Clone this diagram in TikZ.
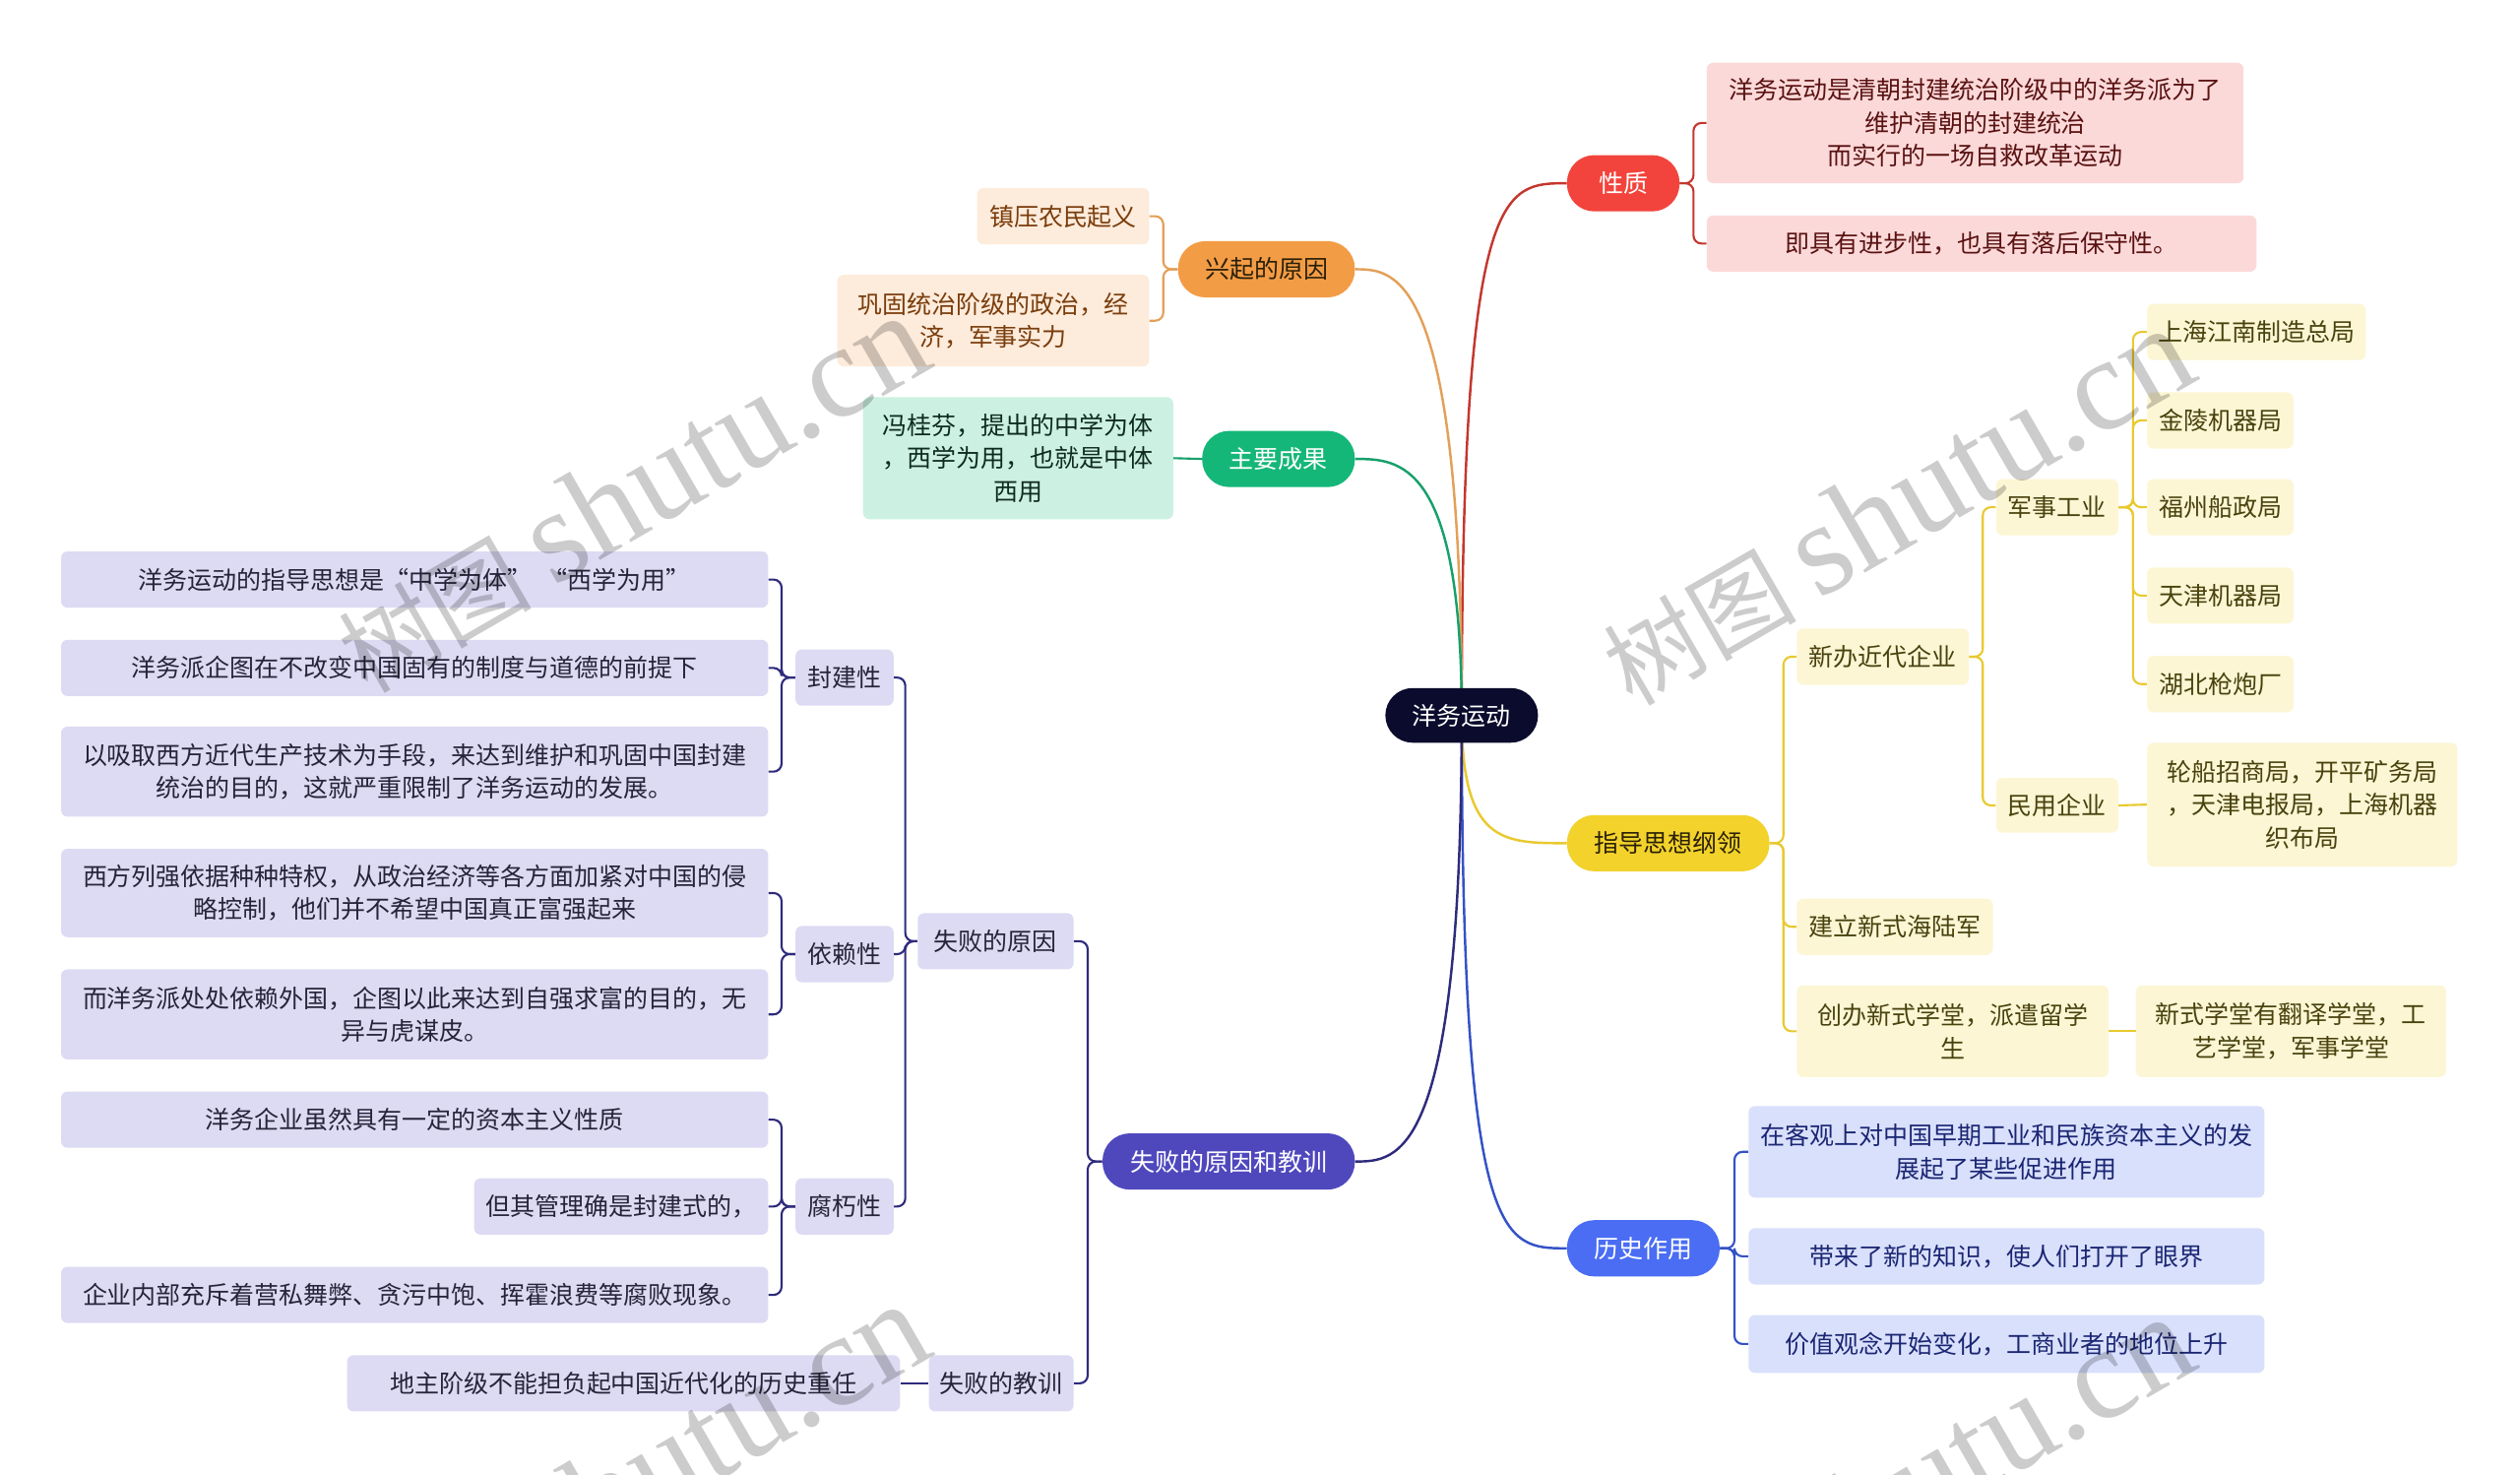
\documentclass[tikz,border=0pt]{standalone}
\usepackage{fontspec}
\newfontfamily\cjk{Noto Sans CJK SC}
\newfontfamily\wmserif{Liberation Serif}
\usetikzlibrary{backgrounds}
\definecolor{rootc}{HTML}{0B0B2D}
\definecolor{redm}{HTML}{F2443C}
\definecolor{redl}{HTML}{FCD9D9}
\definecolor{redt}{HTML}{5A1212}
\definecolor{redline}{HTML}{C4372E}
\definecolor{orm}{HTML}{F39C46}
\definecolor{orl}{HTML}{FDEBDB}
\definecolor{ort}{HTML}{7A3D0C}
\definecolor{orline}{HTML}{E3A058}
\definecolor{grm}{HTML}{15B778}
\definecolor{grl}{HTML}{CCF1E2}
\definecolor{grt}{HTML}{0F2A20}
\definecolor{grline}{HTML}{17A06C}
\definecolor{yem}{HTML}{F2D22B}
\definecolor{yel}{HTML}{FCF6D4}
\definecolor{yet}{HTML}{4A420E}
\definecolor{yeline}{HTML}{E9C92E}
\definecolor{blm}{HTML}{4A6DF3}
\definecolor{bll}{HTML}{D9E0FC}
\definecolor{blt}{HTML}{1B2673}
\definecolor{blline}{HTML}{3452C6}
\definecolor{pum}{HTML}{4F48BD}
\definecolor{pul}{HTML}{DDDBF3}
\definecolor{put}{HTML}{25243A}
\definecolor{puline}{HTML}{2F2B7C}
\definecolor{darkt}{HTML}{2A2008}
\tikzset{
  base/.style={rectangle, inner sep=0pt, align=center, font=\cjk\fontsize{15.3}{20.5}\selectfont},
  mainnode/.style={base, rounded corners=17pt, minimum height=35pt},
  leaf/.style={base, rounded corners=4pt},
  link/.style={line width=1.3pt, rounded corners=5pt},
  rootlink/.style={line width=1.5pt},
  wm/.style={rotate=30, text=black, opacity=0.2, inner sep=0pt},
}
\begin{document}
\begin{tikzpicture}[x=1pt, y=-1pt]
\useasboundingbox (0,0) rectangle (1568,917);

% root
\node[mainnode, fill=rootc, text=white, minimum width=95pt, minimum height=34pt] (root) at (909.5,445) {洋务运动};

% ---- right side
\node[mainnode, fill=redm, text=white, minimum width=70pt] (xingzhi) at (1010,114) {性质};
\node[leaf, fill=redl, text=redt, minimum width=334pt, minimum height=75pt] (xz1) at (1229,76.5) {洋务运动是清朝封建统治阶级中的洋务派为了\\维护清朝的封建统治\\而实行的一场自救改革运动};
\node[leaf, fill=redl, text=redt, minimum width=342pt, minimum height=35pt] (xz2) at (1233,151.5) {即具有进步性，也具有落后保守性。};

\node[mainnode, fill=yem, text=darkt, minimum width=126pt] (zhidao) at (1038,524.5) {指导思想纲领};
\node[leaf, fill=yel, text=yet, minimum width=107pt, minimum height=35pt] (xinban) at (1171.5,408.5) {新办近代企业};
\node[leaf, fill=yel, text=yet, minimum width=76pt, minimum height=35pt] (junshi) at (1280,315.5) {军事工业};
\node[leaf, fill=yel, text=yet, minimum width=136pt, minimum height=35pt] (j1) at (1404,206.5) {上海江南制造总局};
\node[leaf, fill=yel, text=yet, minimum width=91pt, minimum height=35pt] (j2) at (1381.5,261.5) {金陵机器局};
\node[leaf, fill=yel, text=yet, minimum width=91pt, minimum height=35pt] (j3) at (1381.5,315.5) {福州船政局};
\node[leaf, fill=yel, text=yet, minimum width=91pt, minimum height=35pt] (j4) at (1381.5,370.5) {天津机器局};
\node[leaf, fill=yel, text=yet, minimum width=91pt, minimum height=35pt] (j5) at (1381.5,425.5) {湖北枪炮厂};
\node[leaf, fill=yel, text=yet, minimum width=76pt, minimum height=34pt] (minyong) at (1280,501) {民用企业};
\node[leaf, fill=yel, text=yet, minimum width=193pt, minimum height=77pt] (m1) at (1432.5,500.5) {轮船招商局，开平矿务局\\，天津电报局，上海机器\\织布局};
\node[leaf, fill=yel, text=yet, minimum width=122pt, minimum height=35pt] (haijun) at (1179,576.5) {建立新式海陆军};
\node[leaf, fill=yel, text=yet, minimum width=194pt, minimum height=57pt] (xuetang) at (1215,641.5) {创办新式学堂，派遣留学\\生};
\node[leaf, fill=yel, text=yet, minimum width=193pt, minimum height=57pt] (xt1) at (1425.5,641.5) {新式学堂有翻译学堂，工\\艺学堂，军事学堂};

\node[mainnode, fill=blm, text=white, minimum width=95pt] (lishi) at (1022.5,776.5) {历史作用};
\node[leaf, fill=bll, text=blt, minimum width=321pt, minimum height=57pt] (l1) at (1248.5,716.5) {在客观上对中国早期工业和民族资本主义的发\\展起了某些促进作用};
\node[leaf, fill=bll, text=blt, minimum width=321pt, minimum height=35pt] (l2) at (1248.5,781.5) {带来了新的知识，使人们打开了眼界};
\node[leaf, fill=bll, text=blt, minimum width=321pt, minimum height=36pt] (l3) at (1248.5,836) {价值观念开始变化，工商业者的地位上升};

% ---- left side
\node[mainnode, fill=orm, text=darkt, minimum width=110pt] (xingqi) at (788,167.5) {兴起的原因};
\node[leaf, fill=orl, text=ort, minimum width=107pt, minimum height=35pt] (q1) at (661.5,134.5) {镇压农民起义};
\node[leaf, fill=orl, text=ort, minimum width=194pt, minimum height=57pt] (q2) at (618,199.5) {巩固统治阶级的政治，经\\济，军事实力};

\node[mainnode, fill=grm, text=white, minimum width=95pt] (chengguo) at (795.5,285.5) {主要成果};
\node[leaf, fill=grl, text=grt, minimum width=193pt, minimum height=76pt] (c1) at (633.5,285) {冯桂芬，提出的中学为体\\，西学为用，也就是中体\\西用};

\node[mainnode, fill=pum, text=white, minimum width=157pt] (shibai) at (764.5,722.5) {失败的原因和教训};
\node[leaf, fill=pul, text=put, minimum width=97pt, minimum height=35pt] (yuanyin) at (619.5,585.5) {失败的原因};
\node[leaf, fill=pul, text=put, minimum width=61pt, minimum height=35pt] (fengjian) at (525.5,421.5) {封建性};
\node[leaf, fill=pul, text=put, minimum width=440pt, minimum height=35pt] (f1) at (258,360.5) {洋务运动的指导思想是“中学为体”\ \ “西学为用”};
\node[leaf, fill=pul, text=put, minimum width=440pt, minimum height=35pt] (f2) at (258,415.5) {洋务派企图在不改变中国固有的制度与道德的前提下};
\node[leaf, fill=pul, text=put, minimum width=440pt, minimum height=56pt] (f3) at (258,480) {以吸取西方近代生产技术为手段，来达到维护和巩固中国封建\\统治的目的，这就严重限制了洋务运动的发展。};
\node[leaf, fill=pul, text=put, minimum width=61pt, minimum height=35pt] (yilai) at (525.5,593.5) {依赖性};
\node[leaf, fill=pul, text=put, minimum width=440pt, minimum height=55pt] (y1) at (258,555.5) {西方列强依据种种特权，从政治经济等各方面加紧对中国的侵\\略控制，他们并不希望中国真正富强起来};
\node[leaf, fill=pul, text=put, minimum width=440pt, minimum height=56pt] (y2) at (258,631) {而洋务派处处依赖外国，企图以此来达到自强求富的目的，无\\异与虎谋皮。};
\node[leaf, fill=pul, text=put, minimum width=61pt, minimum height=35pt] (fuxiu) at (525.5,750.5) {腐朽性};
\node[leaf, fill=pul, text=put, minimum width=440pt, minimum height=35pt] (fx1) at (258,696.5) {洋务企业虽然具有一定的资本主义性质};
\node[leaf, fill=pul, text=put, minimum width=183pt, minimum height=35pt] (fx2) at (386.5,750.5) {但其管理确是封建式的，};
\node[leaf, fill=pul, text=put, minimum width=440pt, minimum height=35pt] (fx3) at (258,805.5) {企业内部充斥着营私舞弊、贪污中饱、挥霍浪费等腐败现象。};
\node[leaf, fill=pul, text=put, minimum width=90pt, minimum height=35pt] (jiaoxun) at (623,860.5) {失败的教训};
\node[leaf, fill=pul, text=put, minimum width=344pt, minimum height=35pt] (jx1) at (388,860.5) {地主阶级不能担负起中国近代化的历史重任};

% ---- connectors
\begin{scope}[on background layer]
\fill[white] (0,0) rectangle (1568,917);
% root curves
\draw[rootlink, redline] (root.center) .. controls (909.5,114) and (935,114) .. (xingzhi.west);
\draw[rootlink, orline] (root.center) .. controls (909.5,167.5) and (868,167.5) .. (xingqi.east);
\draw[rootlink, grline] (root.center) .. controls (909.5,285.5) and (870,285.5) .. (chengguo.east);
\draw[rootlink, yeline] (root.center) .. controls (909.5,524.5) and (935,524.5) .. (zhidao.west);
\draw[rootlink, blline] (root.center) .. controls (909.5,776.5) and (935,776.5) .. (lishi.west);
\draw[rootlink, puline] (root.center) .. controls (909.5,722.5) and (870,722.5) .. (shibai.east);
% right children
\draw[link, redline] (xingzhi.east) -- ++(8.5,0) |- (xz1.west);
\draw[link, redline] (xingzhi.east) -- ++(8.5,0) |- (xz2.west);
\foreach \c in {xinban,haijun,xuetang}
  \draw[link, yeline] (zhidao.east) -- ++(8.5,0) |- (\c.west);
\foreach \c in {junshi,minyong}
  \draw[link, yeline] (xinban.east) -- ++(8.5,0) |- (\c.west);
\foreach \c in {j1,j2,j3,j4,j5}
  \draw[link, yeline] (junshi.east) -- ++(9,0) |- (\c.west);
\draw[link, yeline] (minyong.east) -- (m1.west);
\draw[link, yeline] (xuetang.east) -- (xt1.west);
\foreach \c in {l1,l2,l3}
  \draw[link, blline] (lishi.east) -- ++(9,0) |- (\c.west);
% left children
\foreach \c in {q1,q2}
  \draw[link, orline] (xingqi.west) -- ++(-9,0) |- (\c.east);
\draw[link, grline] (chengguo.west) -- (c1.east);
\foreach \c in {yuanyin,jiaoxun}
  \draw[link, puline] (shibai.west) -- ++(-9,0) |- (\c.east);
\foreach \c in {fengjian,yilai,fuxiu}
  \draw[link, puline] (yuanyin.west) -- ++(-7.5,0) |- (\c.east);
\foreach \c in {f1,f2,f3}
  \draw[link, puline] (fengjian.west) -- ++(-8.5,0) |- (\c.east);
\foreach \c in {y1,y2}
  \draw[link, puline] (yilai.west) -- ++(-8.5,0) |- (\c.east);
\foreach \c in {fx1,fx2,fx3}
  \draw[link, puline] (fuxiu.west) -- ++(-8.5,0) |- (\c.east);
\draw[link, puline] (jiaoxun.west) -- (jx1.east);
\end{scope}

% ---- watermarks
\begin{scope}
\clip (0,0) rectangle (1568,917);
\node[wm] (wm1) at (393,307) {\cjk\fontsize{60}{60}\selectfont 树图\ \wmserif\fontsize{82}{82}\selectfont shutu.cn};
\node[wm] (wm2) at (1180,315) {\cjk\fontsize{60}{60}\selectfont 树图\ \wmserif\fontsize{82}{82}\selectfont shutu.cn};
\node[wm] (wm3) at (393,922) {\cjk\fontsize{60}{60}\selectfont 树图\ \wmserif\fontsize{82}{82}\selectfont shutu.cn};
\node[wm] (wm4) at (1180,930) {\cjk\fontsize{60}{60}\selectfont 树图\ \wmserif\fontsize{82}{82}\selectfont shutu.cn};
\end{scope}
\end{tikzpicture}
\end{document}
